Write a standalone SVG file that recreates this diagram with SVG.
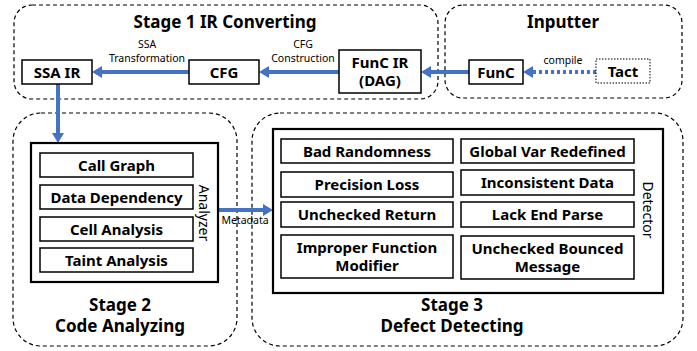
<svg xmlns="http://www.w3.org/2000/svg" width="697" height="351" viewBox="0 0 697 351">
<defs>
<style>
.stage{fill:none;stroke:#000;stroke-width:1.2;stroke-dasharray:4 3}
.box{fill:#fff;stroke:#000;stroke-width:1.5}
.outer{fill:#fff;stroke:#000;stroke-width:2.2}
.t{font-family:"Noto Sans","Open Sans","Liberation Sans",sans-serif;font-weight:bold;text-anchor:middle;fill:#000}
.lbl{font-size:15px}
.title{font-size:17px}
.small{font-family:"Noto Sans","Open Sans","Liberation Sans",sans-serif;font-size:10.5px;text-anchor:middle;fill:#000}
.vert{font-family:"Noto Sans","Open Sans","Liberation Sans",sans-serif;font-size:14px;text-anchor:middle;fill:#000}
.conn{fill:none;stroke:#4472C4;stroke-width:4}
</style>
<marker id="ah" viewBox="0 0 10 12" refX="0" refY="6" markerWidth="10" markerHeight="12" markerUnits="userSpaceOnUse" orient="auto">
<path d="M0,0 L10,6 L0,12 Z" fill="#4472C4"/>
</marker>
</defs>
<g id="stage1">
<rect class="stage" x="14" y="5" width="424" height="94" rx="18"/>
<text class="t title" x="225" y="28">Stage 1 IR Converting</text>
</g>
<g id="inputter">
<rect class="stage" x="445" y="5" width="237" height="93" rx="18"/>
<text class="t title" x="563" y="28">Inputter</text>
</g>
<g id="stage2">
<rect class="stage" x="13" y="113" width="224" height="233" rx="28"/>
<text class="t title" x="120" y="311">Stage 2</text>
<text class="t title" x="120" y="332">Code Analyzing</text>
</g>
<g id="stage3">
<rect class="stage" x="252" y="113" width="431" height="233" rx="28"/>
<text class="t title" x="452" y="311">Stage 3</text>
<text class="t title" x="452" y="332">Defect Detecting</text>
</g>
<g id="connectors">
<line class="conn" x1="339" y1="72" x2="269" y2="72" marker-end="url(#ah)"/>
<line class="conn" x1="189" y1="72" x2="102" y2="72" marker-end="url(#ah)"/>
<line class="conn" x1="469" y1="72" x2="431" y2="72" marker-end="url(#ah)"/>
<line class="conn" x1="596" y1="72" x2="533" y2="72" stroke-dasharray="3 3" marker-end="url(#ah)"/>
<line class="conn" x1="58" y1="84" x2="58" y2="133" marker-end="url(#ah)"/>
<line class="conn" x1="218" y1="210" x2="263" y2="210" marker-end="url(#ah)"/>
<text class="small" x="147" y="48">SSA</text>
<text class="small" x="147" y="62">Transformation</text>
<text class="small" x="303" y="48">CFG</text>
<text class="small" x="303" y="62">Construction</text>
<text class="small" x="563" y="64">compile</text>
<text class="small" x="245" y="224">Metadata</text>
</g>
<g id="ssa-ir">
<rect class="box" x="22" y="60" width="70" height="24"/>
<text class="t lbl" x="57" y="77.5">SSA IR</text>
</g>
<g id="cfg">
<rect class="box" x="189" y="60" width="70" height="24"/>
<text class="t lbl" x="224" y="77.5">CFG</text>
</g>
<g id="func-ir">
<rect class="box" x="339" y="50" width="82" height="43"/>
<text class="t lbl" x="380" y="68">FunC IR</text>
<text class="t lbl" x="380" y="86">(DAG)</text>
</g>
<g id="func">
<rect class="box" x="469" y="60" width="54" height="24"/>
<text class="t lbl" x="496" y="77.5">FunC</text>
</g>
<g id="tact">
<rect x="596" y="59" width="54" height="24" fill="#fff" stroke="#000" stroke-width="1" stroke-dasharray="1.5 1.5"/>
<text class="t lbl" x="623" y="76.5">Tact</text>
</g>
<g id="analyzer">
<rect class="outer" x="31" y="143" width="187" height="139"/>
<text class="vert" transform="translate(204,213) rotate(90)" dy="5">Analyzer</text>
</g>
<g id="call-graph">
<rect class="box" x="40" y="153" width="153" height="24"/>
<text class="t lbl" x="116.5" y="170.5">Call Graph</text>
</g>
<g id="data-dependency">
<rect class="box" x="40" y="185" width="153" height="24"/>
<text class="t lbl" x="116.5" y="202.5">Data Dependency</text>
</g>
<g id="cell-analysis">
<rect class="box" x="40" y="217" width="153" height="24"/>
<text class="t lbl" x="116.5" y="234.5">Cell Analysis</text>
</g>
<g id="taint-analysis">
<rect class="box" x="40" y="248" width="153" height="24"/>
<text class="t lbl" x="116.5" y="265.5">Taint Analysis</text>
</g>
<g id="detector">
<rect class="outer" x="273" y="129" width="390" height="164"/>
<text class="vert" transform="translate(648,210) rotate(90)" dy="5">Detector</text>
</g>
<g id="bad-randomness">
<rect class="box" x="281" y="139" width="172" height="24"/>
<text class="t lbl" x="367" y="156.5">Bad Randomness</text>
</g>
<g id="global-var-redefined">
<rect class="box" x="461" y="139" width="173" height="24"/>
<text class="t lbl" x="547.5" y="156.5">Global Var Redefined</text>
</g>
<g id="precision-loss">
<rect class="box" x="281" y="172" width="172" height="25"/>
<text class="t lbl" x="367" y="190">Precision Loss</text>
</g>
<g id="inconsistent-data">
<rect class="box" x="461" y="170" width="173" height="25"/>
<text class="t lbl" x="547.5" y="188">Inconsistent Data</text>
</g>
<g id="unchecked-return">
<rect class="box" x="281" y="202" width="172" height="25"/>
<text class="t lbl" x="367" y="220">Unchecked Return</text>
</g>
<g id="lack-end-parse">
<rect class="box" x="461" y="202" width="173" height="25"/>
<text class="t lbl" x="547.5" y="220">Lack End Parse</text>
</g>
<g id="improper-function-modifier">
<rect class="box" x="281" y="235" width="172" height="43"/>
<text class="t lbl" x="367" y="253">Improper Function</text>
<text class="t lbl" x="367" y="271">Modifier</text>
</g>
<g id="unchecked-bounced-message">
<rect class="box" x="461" y="236" width="173" height="43"/>
<text class="t lbl" x="547.5" y="254">Unchecked Bounced</text>
<text class="t lbl" x="547.5" y="272">Message</text>
</g>
</svg>
